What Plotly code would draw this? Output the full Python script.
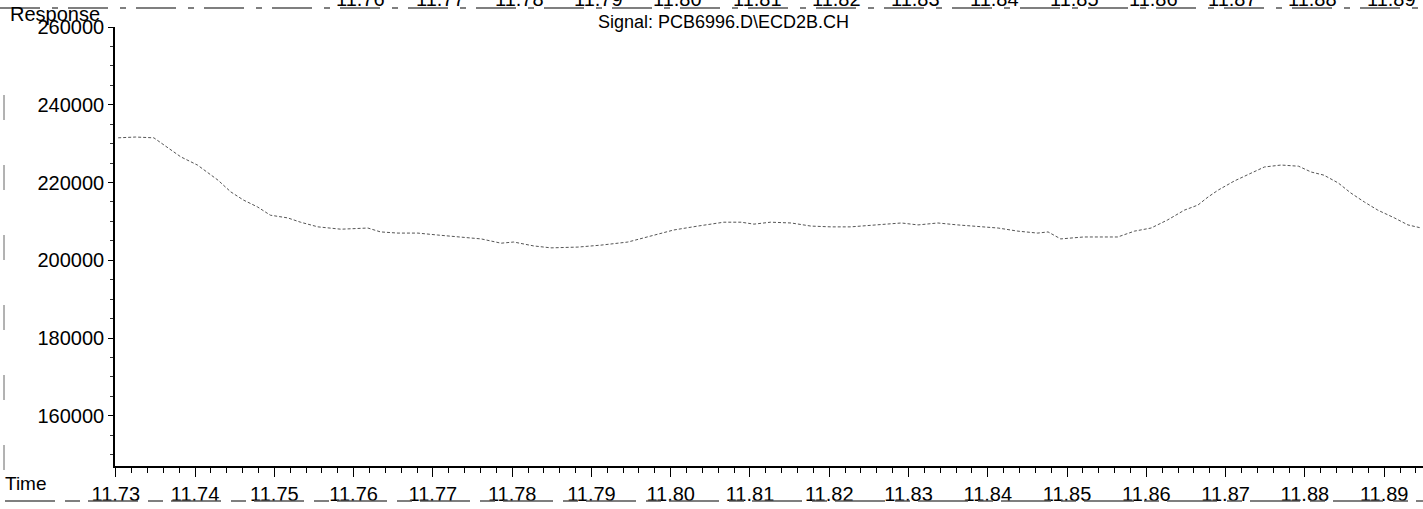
import plotly.graph_objects as go

# Data
time_min = [11.7303, 11.7325, 11.7348, 11.7369, 11.7382, 11.7403, 11.7429, 11.7445,
            11.7461, 11.7479, 11.7495, 11.7517, 11.7533, 11.7555, 11.7584, 11.7618,
            11.7634, 11.7656, 11.7681, 11.7706, 11.7735, 11.7761, 11.7786, 11.7802,
            11.7827, 11.7849, 11.7883, 11.7912, 11.7946, 11.7975, 11.8004, 11.8034,
            11.8067, 11.8089, 11.8105, 11.8126, 11.8152, 11.8177, 11.8202, 11.8227,
            11.8265, 11.8291, 11.8312, 11.8337, 11.8362, 11.8388, 11.8413, 11.8438,
            11.8463, 11.8476, 11.8492, 11.8521, 11.8564, 11.8585, 11.8606, 11.8627,
            11.8648, 11.8665, 11.8678, 11.8691, 11.8711, 11.8732, 11.8749, 11.8770,
            11.8792, 11.8808, 11.8824, 11.8842, 11.8858, 11.8875, 11.8892, 11.8913,
            11.8930, 11.8947]
response = [231500, 231700, 231500, 228400, 226600, 224500, 220600, 217600,
            215500, 213700, 211600, 210900, 209800, 208600, 208000, 208300,
            207300, 207000, 207000, 206500, 206000, 205500, 204400, 204700,
            203700, 203200, 203400, 203900, 204700, 206200, 207800, 208800,
            209800, 209800, 209300, 209800, 209600, 208800, 208600, 208600,
            209300, 209600, 209100, 209600, 209100, 208600, 208300, 207500,
            207000, 207300, 205500, 206000, 206000, 207500, 208300, 210400,
            212900, 214200, 216300, 218100, 220400, 222400, 224000, 224500,
            224200, 222700, 221900, 219900, 217300, 215000, 212900, 210900,
            209100, 208300]

x_ticks = [11.73, 11.74, 11.75, 11.76, 11.77, 11.78, 11.79, 11.80, 11.81,
           11.82, 11.83, 11.84, 11.85, 11.86, 11.87, 11.88, 11.89]
y_ticks = [160000, 180000, 200000, 220000, 240000, 260000]
top_labels = [11.76, 11.77, 11.78, 11.79, 11.80, 11.81, 11.82, 11.83,
              11.84, 11.85, 11.86, 11.87, 11.88, 11.89]

title_text = "Signal: PCB6996.D\\ECD2B.CH"

FONT = "Liberation Sans, Arial, sans-serif"

fig = go.Figure()
fig.add_trace(go.Scatter(
    x=time_min, y=response, mode="lines",
    line=dict(color="#555555", width=1, dash="3px,2px"),
    showlegend=False, hoverinfo="skip"))

fig.update_layout(
    width=1423, height=509,
    margin=dict(l=115, r=0, t=27, b=43, pad=0, autoexpand=False),
    paper_bgcolor="white", plot_bgcolor="white",
    font=dict(family=FONT, color="black", size=20),
    showlegend=False,
)

fig.update_xaxes(
    range=[11.7299, 11.8949], automargin=False,
    tickvals=x_ticks, ticktext=[f"{v:.2f}" for v in x_ticks],
    ticks="outside", ticklen=9, tickwidth=1.2, tickcolor="black",
    minor=dict(dtick=0.002, tick0=11.73, ticks="outside", ticklen=5,
               tickwidth=1, tickcolor="black", showgrid=False),
    showline=True, linecolor="black", linewidth=1.5,
    showgrid=False, zeroline=False,
    tickfont=dict(size=20, family=FONT, color="black"),
)
fig.update_yaxes(
    range=[147100, 260000], automargin=False,
    tickvals=y_ticks, ticktext=[str(v) for v in y_ticks],
    ticks="outside", ticklen=5, tickwidth=1, tickcolor="black",
    minor=dict(dtick=5000, tick0=0, ticks="outside", ticklen=3,
               tickwidth=1, tickcolor="#333", showgrid=False),
    showline=True, linecolor="black", linewidth=1.5,
    showgrid=False, zeroline=False,
    tickfont=dict(size=20, family=FONT, color="black"),
)

annotations = [
    dict(text="Response", xref="paper", yref="paper",
         x=(8 - 115) / 1308, y=(466 - 14) / 439, xanchor="left", yanchor="middle",
         showarrow=False, font=dict(size=20, family=FONT, color="black")),
    dict(text=title_text, xref="paper", yref="paper",
         x=(723 - 115) / 1308, y=(466 - 22) / 439, xanchor="center", yanchor="middle",
         showarrow=False, font=dict(size=18, family=FONT, color="black")),
    dict(text="Time", xref="paper", yref="paper",
         x=(3 - 115) / 1308, y=(466 - 483) / 439, xanchor="left", yanchor="middle",
         showarrow=False, font=dict(size=19, family=FONT, color="black")),
]
for t in top_labels:
    annotations.append(dict(
        text=f"{t:.2f}", xref="x", yref="paper", x=t + 0.0009,
        y=(466 + 1) / 439, xanchor="center", yanchor="middle",
        showarrow=False, font=dict(size=20, family=FONT, color="black")))
fig.update_layout(annotations=annotations)

shapes = [
    # top scan row underline
    dict(type="line", xref="paper", yref="paper",
         x0=(0 - 115) / 1308, x1=1.0, y0=(466 - 8) / 439, y1=(466 - 8) / 439,
         line=dict(color="#555", width=1.5, dash="40px,12px,6px,10px")),
    # bottom scan row underline
    dict(type="line", xref="paper", yref="paper",
         x0=(5 - 115) / 1308, x1=1.0, y0=(466 - 501) / 439, y1=(466 - 501) / 439,
         line=dict(color="#555", width=1.5, dash="50px,10px,15px,8px")),
    # left border marks
    dict(type="line", xref="paper", yref="paper",
         x0=(4 - 115) / 1308, x1=(4 - 115) / 1308, y0=(466 - 95) / 439, y1=(466 - 509) / 439,
         line=dict(color="#666", width=1, dash="25px,45px")),
]
fig.update_layout(shapes=shapes)

fig.write_html(
    "out.html",
    config={"displayModeBar": False},
    post_script="document.body.style.margin='0px';document.body.style.overflow='hidden';",
)
